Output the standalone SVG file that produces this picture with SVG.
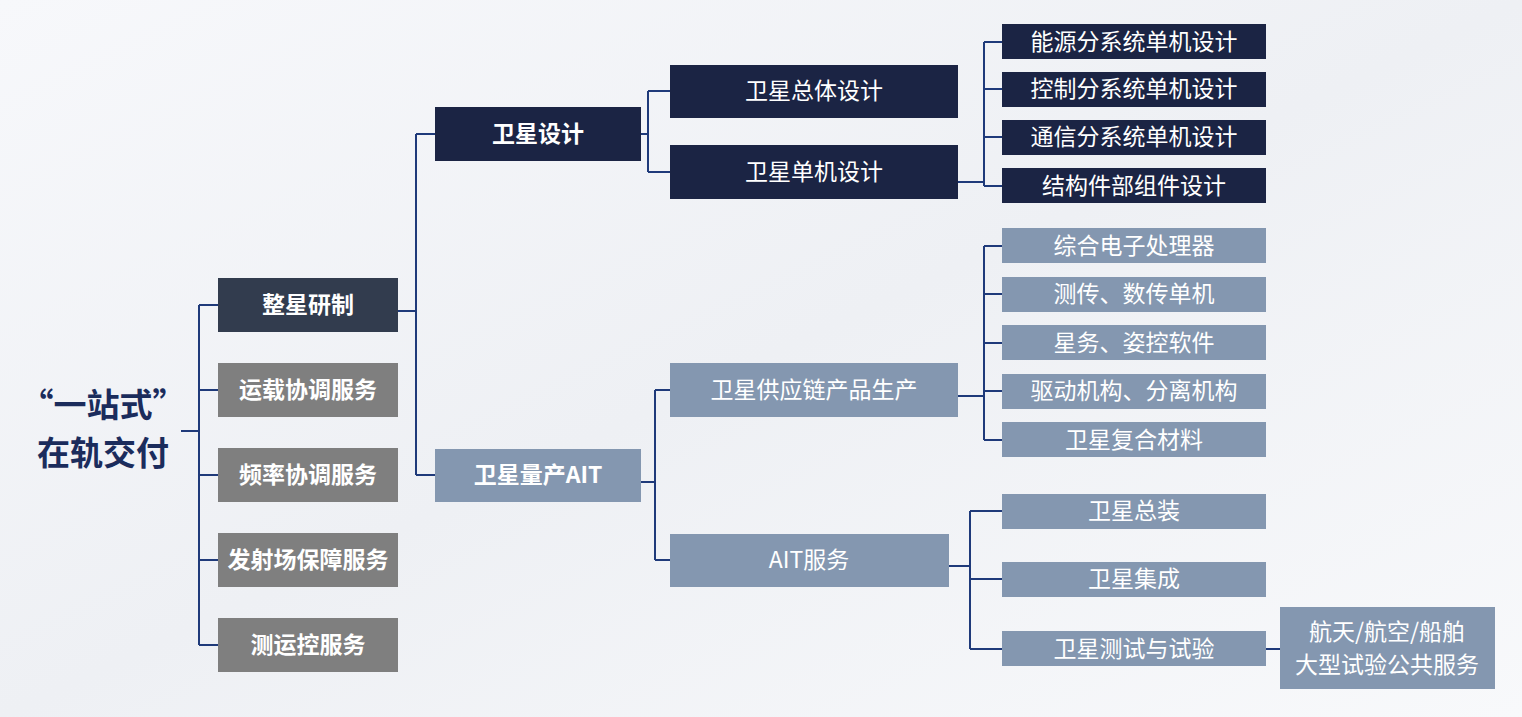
<svg xmlns="http://www.w3.org/2000/svg" width="1522" height="717" viewBox="0 0 1522 717">
<defs>
<linearGradient id="bg" x1="0" y1="0" x2="1" y2="1"><stop offset="0" stop-color="#f7f8fb"/><stop offset="0.5" stop-color="#eef0f4"/><stop offset="1" stop-color="#f8f9fb"/></linearGradient>
<style>
text{font-family:"Noto Sans CJK SC","Noto Sans",sans-serif;fill:#fff;text-anchor:middle;dominant-baseline:central;transform:translateY(-2px)}
.b{font-weight:bold;font-size:23px}
.r{font-size:23px}
.nv{fill:#1b2444}.sl{fill:#323c4e}.gr{fill:#7f7f7f}.bl{fill:#8497b0}
#connectors path{fill:none;stroke:#1f3a7a;stroke-width:2}
</style>
</defs>
<rect width="1522" height="717" fill="url(#bg)"/>
<g id="connectors">
<path d="M181 431H199M199 305V645M199 305H218M199 390H218M199 475H218M199 560H218M199 645H218"/>
<path d="M398 311H416M416 134V475M416 134H435M416 475H435"/>
<path d="M641 134H648M648 91V172M648 91H670M648 172H670"/>
<path d="M641 482H655M655 390V560M655 390H670M655 560H670"/>
<path d="M958 182H984M984 42V186M984 42H1002M984 89H1002M984 137H1002M984 186H1002"/>
<path d="M958 396H984M984 246V440M984 246H1002M984 294H1002M984 343H1002M984 391H1002M984 440H1002"/>
<path d="M949 566H970M970 511V649M970 511H1002M970 579H1002M970 649H1002M1266 649H1280"/>
</g>
<g id="title"><text x="103" y="405" style="font-size:33px;font-weight:bold;fill:#1b2c5c">“一站式”</text><text x="103" y="453" style="font-size:33px;font-weight:bold;fill:#1b2c5c">在轨交付</text></g>
<g id="n1"><rect class="sl" x="218" y="278" width="180" height="54"/><text class="b" x="308" y="305">整星研制</text></g>
<g id="n2"><rect class="gr" x="218" y="363" width="180" height="54"/><text class="b" x="308" y="390">运载协调服务</text></g>
<g id="n3"><rect class="gr" x="218" y="448" width="180" height="54"/><text class="b" x="308" y="475">频率协调服务</text></g>
<g id="n4"><rect class="gr" x="218" y="533" width="180" height="54"/><text class="b" x="308" y="560">发射场保障服务</text></g>
<g id="n5"><rect class="gr" x="218" y="618" width="180" height="54"/><text class="b" x="308" y="645">测运控服务</text></g>
<g id="n6"><rect class="nv" x="435" y="107" width="206" height="54"/><text class="b" x="538" y="134">卫星设计</text></g>
<g id="n7"><rect class="bl" x="435" y="449" width="206" height="53"/><text class="b" x="538" y="475">卫星量产AIT</text></g>
<g id="n8"><rect class="nv" x="670" y="65" width="288" height="53"/><text class="r" x="814" y="91">卫星总体设计</text></g>
<g id="n9"><rect class="nv" x="670" y="145" width="288" height="54"/><text class="r" x="814" y="172">卫星单机设计</text></g>
<g id="n10"><rect class="bl" x="670" y="363" width="288" height="54"/><text class="r" x="814" y="390">卫星供应链产品生产</text></g>
<g id="n11"><rect class="bl" x="670" y="534" width="279" height="53"/><text class="r" x="809" y="560">AIT服务</text></g>
<g id="n12"><rect class="nv" x="1002" y="24" width="264" height="35"/><text class="r" x="1134" y="42">能源分系统单机设计</text></g>
<g id="n13"><rect class="nv" x="1002" y="72" width="264" height="35"/><text class="r" x="1134" y="89">控制分系统单机设计</text></g>
<g id="n14"><rect class="nv" x="1002" y="120" width="264" height="35"/><text class="r" x="1134" y="137">通信分系统单机设计</text></g>
<g id="n15"><rect class="nv" x="1002" y="168" width="264" height="35"/><text class="r" x="1134" y="186">结构件部组件设计</text></g>
<g id="n16"><rect class="bl" x="1002" y="228" width="264" height="35"/><text class="r" x="1134" y="246">综合电子处理器</text></g>
<g id="n17"><rect class="bl" x="1002" y="277" width="264" height="35"/><text class="r" x="1134" y="294">测传、数传单机</text></g>
<g id="n18"><rect class="bl" x="1002" y="325" width="264" height="35"/><text class="r" x="1134" y="343">星务、姿控软件</text></g>
<g id="n19"><rect class="bl" x="1002" y="374" width="264" height="35"/><text class="r" x="1134" y="391">驱动机构、分离机构</text></g>
<g id="n20"><rect class="bl" x="1002" y="422" width="264" height="35"/><text class="r" x="1134" y="440">卫星复合材料</text></g>
<g id="n21"><rect class="bl" x="1002" y="494" width="264" height="35"/><text class="r" x="1134" y="511">卫星总装</text></g>
<g id="n22"><rect class="bl" x="1002" y="562" width="264" height="35"/><text class="r" x="1134" y="579">卫星集成</text></g>
<g id="n23"><rect class="bl" x="1002" y="631" width="264" height="35"/><text class="r" x="1134" y="649">卫星测试与试验</text></g>
<g id="n24"><rect class="bl" x="1280" y="607" width="215" height="82"/><text class="r" x="1387" y="632">航天/航空/船舶</text><text class="r" x="1387" y="665">大型试验公共服务</text></g>
</svg>
